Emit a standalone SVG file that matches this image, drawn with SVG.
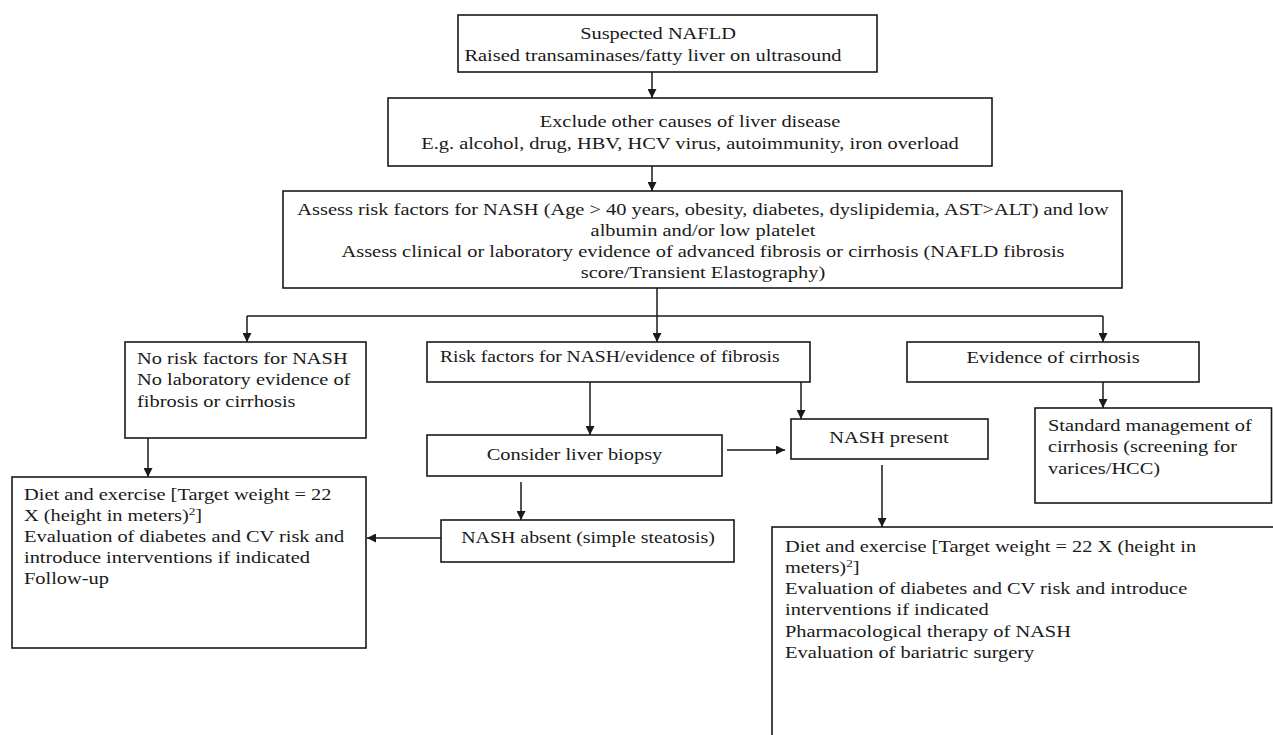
<svg xmlns="http://www.w3.org/2000/svg" width="1273" height="735" viewBox="0 0 1273 735">
<defs>
<style>
.box{fill:#fff;stroke:#1a1a1a;stroke-width:1.6}
.t{font-family:"Liberation Serif","Times New Roman",serif;font-size:17px;fill:#1a1a1a}
.c{text-anchor:middle}
.ln{fill:none;stroke:#1a1a1a;stroke-width:1.5}
.arr{marker-end:url(#ah)}
</style>
<marker id="ah" markerUnits="userSpaceOnUse" markerWidth="9" markerHeight="9" refX="9" refY="4.5" orient="auto">
<path d="M0,0 L9,4.5 L0,9 z" fill="#1a1a1a"/>
</marker>
</defs>
<rect width="1273" height="735" fill="#fff"/>

<g id="connectors">
<line class="ln arr" x1="652" y1="72" x2="652" y2="98"/>
<line class="ln arr" x1="652" y1="166" x2="652" y2="191"/>
<line class="ln" x1="657" y1="288" x2="657" y2="316"/>
<line class="ln" x1="247" y1="316" x2="1103" y2="316"/>
<line class="ln arr" x1="247" y1="316" x2="247" y2="342"/>
<line class="ln arr" x1="657" y1="316" x2="657" y2="342"/>
<line class="ln arr" x1="1103" y1="316" x2="1103" y2="342"/>
<line class="ln arr" x1="148" y1="438" x2="148" y2="477"/>
<line class="ln arr" x1="590" y1="382" x2="590" y2="435"/>
<line class="ln arr" x1="801" y1="382" x2="801" y2="419"/>
<line class="ln arr" x1="727" y1="450" x2="785" y2="450"/>
<line class="ln arr" x1="521" y1="482" x2="521" y2="520"/>
<line class="ln arr" x1="441" y1="538" x2="367" y2="538"/>
<line class="ln arr" x1="882" y1="465" x2="882" y2="527"/>
<line class="ln arr" x1="1103" y1="382" x2="1103" y2="408"/>
</g>

<g id="n-suspected">
<rect class="box" x="458" y="15" width="419" height="57"/>
<text class="t c" transform="translate(658,39) scale(1.2,1)">Suspected NAFLD</text>
<text class="t c" transform="translate(653,61) scale(1.2,1)">Raised transaminases/fatty liver on ultrasound</text>
</g>

<g id="n-exclude">
<rect class="box" x="388" y="98" width="604" height="68"/>
<text class="t c" transform="translate(690,127) scale(1.2,1)">Exclude other causes of liver disease</text>
<text class="t c" transform="translate(690,149) scale(1.2,1)">E.g. alcohol, drug, HBV, HCV virus, autoimmunity, iron overload</text>
</g>

<g id="n-assess">
<rect class="box" x="283" y="191" width="839" height="97"/>
<text class="t c" transform="translate(703,215) scale(1.2,1)">Assess risk factors for NASH (Age &gt; 40 years, obesity, diabetes, dyslipidemia, AST&gt;ALT) and low</text>
<text class="t c" transform="translate(703,236) scale(1.2,1)">albumin and/or low platelet</text>
<text class="t c" transform="translate(703,257) scale(1.2,1)">Assess clinical or laboratory evidence of advanced fibrosis or cirrhosis (NAFLD fibrosis</text>
<text class="t c" transform="translate(703,278) scale(1.2,1)">score/Transient Elastography)</text>
</g>

<g id="n-norisk">
<rect class="box" x="125" y="342" width="241" height="96"/>
<text class="t" transform="translate(137,364) scale(1.2,1)"><tspan x="0" y="0">No risk factors for NASH</tspan><tspan x="0" y="21.5">No laboratory evidence of</tspan><tspan x="0" y="43">fibrosis or cirrhosis</tspan></text>
</g>

<g id="n-riskfactors">
<rect class="box" x="427" y="342" width="383" height="40"/>
<text class="t" transform="translate(440,362) scale(1.2,1)" textLength="283" lengthAdjust="spacingAndGlyphs">Risk factors for NASH/evidence of fibrosis</text>
</g>

<g id="n-cirrhosis">
<rect class="box" x="907" y="342" width="292" height="40"/>
<text class="t c" transform="translate(1053,363) scale(1.2,1)">Evidence of cirrhosis</text>
</g>

<g id="n-biopsy">
<rect class="box" x="427" y="435" width="295" height="41"/>
<text class="t c" transform="translate(574.5,460) scale(1.2,1)">Consider liver biopsy</text>
</g>

<g id="n-nashpresent">
<rect class="box" x="791" y="419" width="197" height="40"/>
<text class="t c" transform="translate(889,443) scale(1.2,1)">NASH present</text>
</g>

<g id="n-standard">
<rect class="box" x="1035" y="408" width="236.5" height="95"/>
<text class="t" transform="translate(1048,431) scale(1.2,1)"><tspan x="0" y="0">Standard management of</tspan><tspan x="0" y="21.5">cirrhosis (screening for</tspan><tspan x="0" y="43">varices/HCC)</tspan></text>
</g>

<g id="n-nashabsent">
<rect class="box" x="441" y="520" width="293" height="42"/>
<text class="t c" transform="translate(588,543) scale(1.17,1)">NASH absent (simple steatosis)</text>
</g>

<g id="n-diet-left">
<rect class="box" x="12" y="477" width="354" height="171"/>
<text class="t" transform="translate(24,500) scale(1.2,1)"><tspan x="0" y="0">Diet and exercise [Target weight = 22</tspan><tspan x="0" y="21">X (height in meters)</tspan><tspan dy="-6" font-size="11">2</tspan><tspan dy="6">]</tspan><tspan x="0" y="42">Evaluation of diabetes and CV risk and</tspan><tspan x="0" y="63">introduce interventions if indicated</tspan><tspan x="0" y="84">Follow-up</tspan></text>
</g>

<g id="n-diet-right">
<rect class="box" x="772" y="527" width="520" height="230"/>
<text class="t" transform="translate(785,552) scale(1.2,1)"><tspan x="0" y="0">Diet and exercise [Target weight = 22 X (height in</tspan><tspan x="0" y="21">meters)</tspan><tspan dy="-6" font-size="11">2</tspan><tspan dy="6">]</tspan><tspan x="0" y="42.5">Evaluation of diabetes and CV risk and introduce</tspan><tspan x="0" y="63.5">interventions if indicated</tspan><tspan x="0" y="85">Pharmacological therapy of NASH</tspan><tspan x="0" y="106">Evaluation of bariatric surgery</tspan></text>
</g>
</svg>
